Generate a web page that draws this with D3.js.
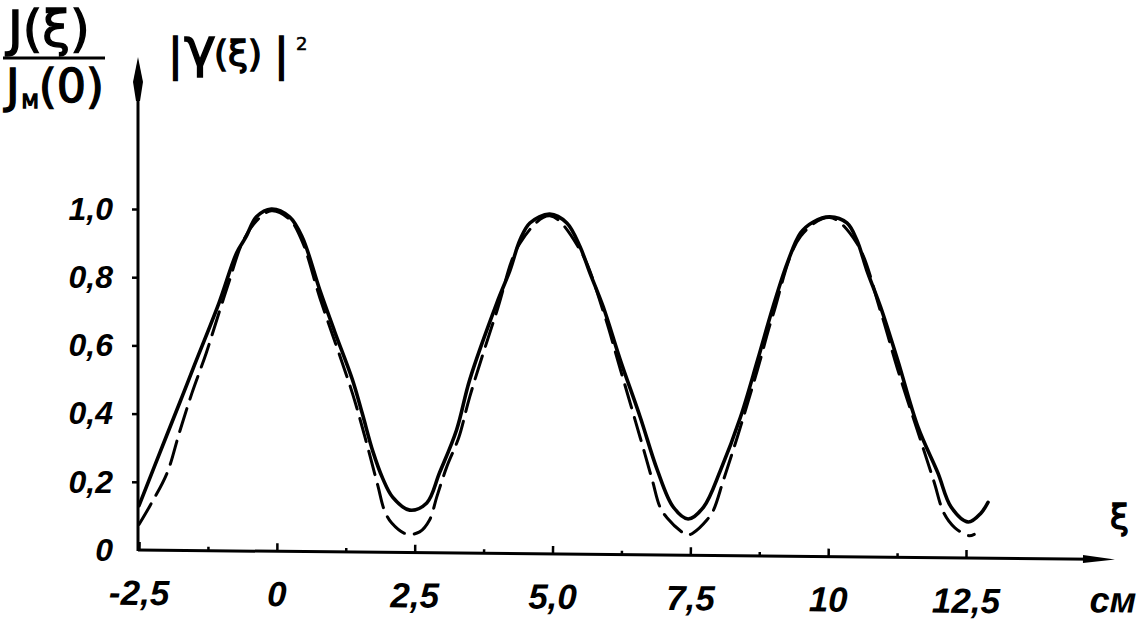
<!DOCTYPE html>
<html>
<head>
<meta charset="utf-8">
<script src="https://cdn.jsdelivr.net/npm/d3@7"></script>
<style>
  html, body { margin: 0; padding: 0; background: #fff; }
  svg { display: block; }
  .num { font-family: "Liberation Sans", Arial, sans-serif; font-style: italic; font-weight: bold; fill: #000; }
  .sym { font-family: "DejaVu Sans", sans-serif; font-weight: normal; fill: #000; stroke: #000; stroke-width: 1.4; }
</style>
</head>
<body>
<svg id="chart" width="1137" height="634"></svg>
<script>
// ---- data ----
const xTicks = [-2.5, 0, 2.5, 5, 7.5, 10, 12.5];
const xTickLabels = ["-2,5", "0", "2,5", "5,0", "7,5", "10", "12,5"];
const xMinorTicks = [-1.25, 1.25, 3.75, 6.25, 8.75, 11.25];
const yTicks = [0, 0.2, 0.4, 0.6, 0.8, 1.0];
const yTickLabels = ["0", "0,2", "0,4", "0,6", "0,8", "1,0"];

// solid curve  J(ξ)/J_M(0)
const solidXi = [-2.5, -2.0, -1.72, -1.5, -1.05, -0.73, -0.56, -0.37, -0.1, 0.23, 0.46, 0.78, 1.05, 1.37, 1.55, 1.74, 1.92, 2.1, 2.41, 2.72, 2.95, 3.26, 3.5, 3.99, 4.23, 4.41, 4.59, 4.95, 5.26, 5.5, 5.68, 5.92, 6.23, 6.59, 6.9, 7.19, 7.46, 7.74, 8.05, 8.41, 8.72, 9.0, 9.26, 9.5, 9.73, 10.03, 10.34, 10.52, 10.7, 10.95, 11.26, 11.63, 11.99, 12.23, 12.54, 12.77, 12.9];
const solidVal = [0.13, 0.335, 0.449, 0.54, 0.724, 0.871, 0.918, 0.977, 1.0, 0.977, 0.918, 0.762, 0.64, 0.5, 0.40, 0.29, 0.21, 0.155, 0.117, 0.138, 0.226, 0.352, 0.5, 0.724, 0.821, 0.909, 0.959, 0.985, 0.959, 0.889, 0.812, 0.713, 0.557, 0.39, 0.235, 0.126, 0.091, 0.126, 0.235, 0.39, 0.557, 0.713, 0.842, 0.93, 0.962, 0.977, 0.959, 0.909, 0.821, 0.713, 0.557, 0.36, 0.226, 0.126, 0.082, 0.108, 0.14];

// dashed curve |γ(ξ)|²
const dashedXi = [-2.5, -2.3, -1.99, -1.77, -1.54, -1.28, -1.05, -0.86, -0.63, -0.37, -0.1, 0.23, 0.46, 0.78, 1.37, 1.6, 1.83, 1.95, 2.08, 2.35, 2.59, 2.77, 2.9, 3.08, 3.3, 3.5, 3.99, 4.41, 4.95, 5.5, 5.92, 6.23, 6.59, 6.81, 6.95, 7.08, 7.37, 7.46, 7.55, 7.8, 7.92, 8.1, 8.35, 8.72, 9.0, 9.5, 10.03, 10.52, 10.95, 11.26, 11.68, 11.92, 12.1, 12.3, 12.55, 12.65];
const dashedVal = [0.075, 0.13, 0.226, 0.343, 0.46, 0.578, 0.695, 0.79, 0.9, 0.965, 0.995, 0.97, 0.905, 0.74, 0.46, 0.33, 0.19, 0.117, 0.08, 0.047, 0.053, 0.088, 0.155, 0.243, 0.33, 0.45, 0.7, 0.9, 0.98, 0.88, 0.7, 0.53, 0.33, 0.205, 0.126, 0.094, 0.05, 0.044, 0.05, 0.088, 0.117, 0.205, 0.33, 0.53, 0.69, 0.92, 0.975, 0.9, 0.7, 0.53, 0.32, 0.2, 0.108, 0.065, 0.042, 0.046];

// ---- layout ----
const svg = d3.select("#chart");
svg.append("rect").attr("width", 1137).attr("height", 634).attr("fill", "#fff");

const x = d3.scaleLinear().domain([-2.5, 12.5]).range([139, 966]);
const y = d3.scaleLinear().domain([0, 1]).range([550, 209]);
const axisX0 = 138;
const xArrowTip = 1115;
const yArrowTip = 57;

// ---- x axis (slightly tilted like the hand drawing) ----
const gx = svg.append("g").attr("transform", `translate(0,${y(0)}) rotate(0.55, ${axisX0}, 0)`);
gx.append("line").attr("x1", axisX0).attr("x2", xArrowTip - 20).attr("y1", 0).attr("y2", 0)
  .attr("stroke", "#000").attr("stroke-width", 3);
gx.append("path").attr("d", `M${xArrowTip},0 L${xArrowTip - 32},-4 L${xArrowTip - 32},4 Z`).attr("fill", "#000");

const xAxis = d3.axisBottom(x).tickValues(xTicks).tickSize(-8).tickPadding(30)
  .tickFormat((d, i) => xTickLabels[i]);
const gxa = gx.append("g").call(xAxis);
gxa.select(".domain").remove();
gxa.selectAll(".tick line").attr("stroke", "#000").attr("stroke-width", 2.5);
gxa.selectAll(".tick text").attr("class", "num").attr("font-size", 35).attr("fill", "#000");

const xMinor = d3.axisBottom(x).tickValues(xMinorTicks).tickSize(-4).tickFormat("");
const gxm = gx.append("g").call(xMinor);
gxm.select(".domain").remove();
gxm.selectAll(".tick line").attr("stroke", "#000").attr("stroke-width", 2.5);

gx.append("text").attr("class", "num").attr("x", 1090).attr("y", 53)
  .attr("font-size", 36).text("см");

// ---- y axis ----
svg.append("line").attr("x1", axisX0).attr("x2", axisX0).attr("y1", y(0) + 1).attr("y2", yArrowTip + 30)
  .attr("stroke", "#000").attr("stroke-width", 3);
svg.append("path")
  .attr("d", `M${axisX0},${yArrowTip} L${axisX0 - 5},${yArrowTip + 25} L${axisX0 - 2},${yArrowTip + 44} L${axisX0 + 2},${yArrowTip + 44} L${axisX0 + 5},${yArrowTip + 25} Z`)
  .attr("fill", "#000");

const yAxis = d3.axisLeft(y).tickValues(yTicks).tickSize(6).tickPadding(19)
  .tickFormat((d, i) => yTickLabels[i]);
const gy = svg.append("g").attr("transform", `translate(${axisX0},0)`).call(yAxis);
gy.select(".domain").remove();
gy.selectAll(".tick line").attr("stroke", "#000").attr("stroke-width", 2.5);
gy.selectAll(".tick").filter(d => d === 0).select("line").remove();
gy.selectAll(".tick text").attr("class", "num").attr("font-size", 32).attr("fill", "#000");

// ---- curves ----
const line = d3.line().x(d => x(d[0])).y(d => y(d[1])).curve(d3.curveCatmullRom.alpha(0.5));
const dashedData = dashedXi.map((v, i) => [v, dashedVal[i]]);
const solidData = solidXi.map((v, i) => [v, solidVal[i]]);

svg.append("path").datum(dashedData).attr("d", line)
  .attr("fill", "none").attr("stroke", "#000").attr("stroke-width", 3)
  .attr("stroke-dasharray", "24,10").attr("stroke-linecap", "round");
svg.append("path").datum(solidData).attr("d", line)
  .attr("fill", "none").attr("stroke", "#000").attr("stroke-width", 3.6)
  .attr("stroke-linejoin", "round").attr("stroke-linecap", "round");

// ---- axis titles ----
const num = svg.append("text").attr("class", "sym").attr("y", 46).attr("font-size", 50);
num.append("tspan").attr("x", 8).text("J");
num.append("tspan").text("(ξ)");
svg.append("line").attr("x1", 3).attr("x2", 105).attr("y1", 58).attr("y2", 58)
  .attr("stroke", "#000").attr("stroke-width", 3);
const den = svg.append("text").attr("class", "sym").attr("y", 102).attr("font-size", 46);
den.append("tspan").attr("x", 6).text("J");
den.append("tspan").attr("font-size", 20).attr("dy", 6).attr("dx", 2).text("M");
den.append("tspan").attr("dy", -6).text("(0)");

const g2 = svg.append("text").attr("class", "sym").attr("y", 70).attr("font-size", 44);
g2.append("tspan").attr("x", 168).text("|");
g2.append("tspan").attr("x", 184).attr("font-size", 54).attr("dy", -4).text("γ");
g2.append("tspan").attr("x", 214).attr("font-size", 36).attr("dy", 0).text("(ξ)");
g2.append("tspan").attr("x", 274).attr("font-size", 44).attr("dy", 4).text("|");
g2.append("tspan").attr("x", 296).attr("font-size", 18).attr("dy", -20).attr("stroke-width", 0.6).text("2");

svg.append("text").attr("class", "sym").attr("x", 1110).attr("y", 529)
  .attr("font-size", 34).text("ξ");
</script>
</body>
</html>
